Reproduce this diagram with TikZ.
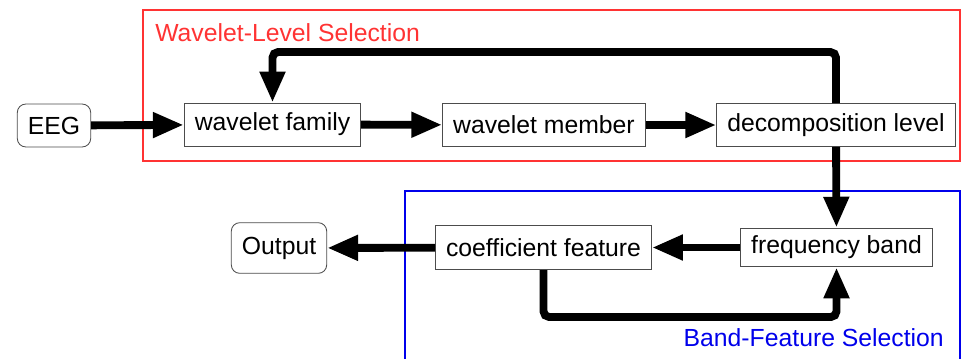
\documentclass[tikz,border=0pt]{standalone}
\usepackage{fontspec}
\setmainfont{Liberation Sans}
\usetikzlibrary{arrows.meta}

\definecolor{selred}{RGB}{255,51,51}
\definecolor{selblue}{RGB}{0,0,235}

\tikzset{
  box/.style={draw=black!70, line width=0.6pt, fill=white, inner xsep=7.5pt,
              minimum height=30.5pt, font=\fontsize{17.6}{21}\selectfont},
  endbox/.style={box, rounded corners=6pt},
  flow/.style={line width=5.6pt, -{Triangle[length=22pt,width=17pt]}},
  group/.style={line width=0.9pt},
}

\begin{document}
\begin{tikzpicture}[x=0.025cm,y=-0.025cm]
\useasboundingbox (0,0) rectangle (964,358);

% selection frames
\draw[group,selred]  (143,10) rectangle (960,161);
\draw[group,selblue] (405,191) rectangle (960,370);
\node[anchor=west,text=selred,font=\fontsize{17.6}{21}\selectfont,inner sep=0pt] (wlsel) at (155,33) {Wavelet-Level Selection};
\node[anchor=east,text=selblue,font=\fontsize{17.6}{21}\selectfont,inner sep=0pt] (bfsel) at (944,338) {Band-Feature Selection};

% blocks
\node[endbox] (eeg)    at (54,125.5)   {EEG};
\node[box]    (wfam)   at (272.5,124.5) {wavelet family};
\node[box]    (wmem)   at (544,125)    {wavelet member};
\node[box]    (dlev)   at (836,125)    {decomposition level};
\node[box,minimum height=27.6pt] (fband) at (836.5,247.5) {frequency band};
\node[box,minimum height=31.5pt] (cfeat) at (543.5,247.5) {coefficient feature};
\node[endbox,minimum height=36pt] (output) at (279,248) {Output};

\coordinate (looptop) at (0,52);
\coordinate (loopbot) at (0,317);

\draw[flow] (eeg) -- (wfam);
\draw[flow] (wfam) -- (wmem);
\draw[flow] (wmem) -- (dlev);
\draw[flow,rounded corners=4pt] (dlev.north) -- (dlev.north |- looptop) -| (wfam.north);
\draw[flow] (dlev) -- (fband);
\draw[flow] (fband) -- (cfeat);
\draw[flow] (cfeat) -- (output);
\draw[flow,rounded corners=4pt] (cfeat.south) -- (cfeat.south |- loopbot) -| (fband.south);
\end{tikzpicture}
\end{document}
